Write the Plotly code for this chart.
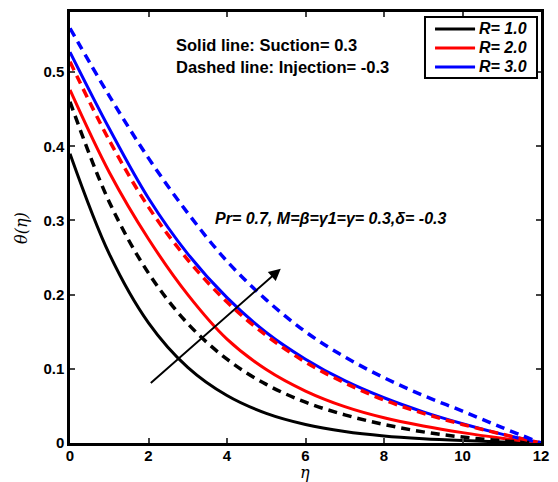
import plotly.graph_objects as go

eta = [0, 1, 2, 3, 4, 5, 6, 7, 8, 9, 10, 11, 12]

theta_R1_suction = [0.39, 0.255, 0.162, 0.102, 0.064, 0.040, 0.025, 0.0155, 0.0095, 0.0058, 0.0033, 0.0014, 0.0]
theta_R1_injection = [0.46, 0.325, 0.229, 0.161, 0.113, 0.079, 0.055, 0.038, 0.025, 0.015, 0.008, 0.003, 0.0]
theta_R2_suction = [0.476, 0.365, 0.275, 0.200, 0.140, 0.099, 0.070, 0.049, 0.034, 0.023, 0.014, 0.0065, 0.0]
theta_R2_injection = [0.514, 0.408, 0.318, 0.247, 0.190, 0.145, 0.109, 0.081, 0.058, 0.040, 0.025, 0.012, 0.0]
theta_R3_suction = [0.527, 0.424, 0.330, 0.255, 0.196, 0.149, 0.113, 0.084, 0.061, 0.042, 0.026, 0.012, 0.0]
theta_R3_injection = [0.559, 0.468, 0.384, 0.310, 0.245, 0.193, 0.150, 0.116, 0.088, 0.064, 0.043, 0.021, 0.0]

legend_labels = ["R= 1.0", "R= 2.0", "R= 3.0"]
colors = ["black", "red", "blue"]

x_ticks = [0, 2, 4, 6, 8, 10, 12]
y_ticks = [0, 0.1, 0.2, 0.3, 0.4, 0.5]
y_tick_text = ["0", "0.1", "0.2", "0.3", "0.4", "0.5"]

fig = go.Figure()

suction = [theta_R1_suction, theta_R2_suction, theta_R3_suction]
injection = [theta_R1_injection, theta_R2_injection, theta_R3_injection]

for lab, col, ys in zip(legend_labels, colors, suction):
    fig.add_trace(go.Scatter(x=eta, y=ys, mode="lines", name=lab, showlegend=False,
                             line=dict(color=col, width=3, shape="spline", smoothing=1.0)))
for lab, col, ys in zip(legend_labels, colors, injection):
    fig.add_trace(go.Scatter(x=eta, y=ys, mode="lines", name=lab, showlegend=False,
                             line=dict(color=col, width=3.5, dash="9px,6px", shape="spline", smoothing=1.0)))

ARIAL = "Arial, Liberation Sans, sans-serif"
tickfont = dict(family=ARIAL, size=15, color="black", weight="bold")

fig.update_layout(
    width=558, height=482,
    margin=dict(l=70, r=17, t=12, b=39),
    paper_bgcolor="white", plot_bgcolor="white",
    showlegend=False,
    xaxis=dict(range=[0, 12], tickvals=x_ticks, ticks="inside", ticklen=5, tickwidth=2,
               showline=True, linecolor="black", linewidth=2.5, mirror="ticks", showgrid=False, zeroline=False,
               tickfont=tickfont, automargin=False, ticklabelstandoff=-3),
    yaxis=dict(range=[0, 0.581], tickvals=y_ticks, ticktext=y_tick_text, ticks="inside", ticklen=5, tickwidth=2,
               showline=True, linecolor="black", linewidth=2.5, mirror="ticks", showgrid=False, zeroline=False,
               tickfont=tickfont, automargin=False),
)

# legend box (drawn manually to match the compact MATLAB legend)
lx0, lx1, ly0, ly1 = 0.7537, 0.9915, 0.8469, 0.9884
fig.add_shape(type="rect", xref="paper", yref="paper", x0=lx0, x1=lx1, y0=ly0, y1=ly1,
              line=dict(color="black", width=2), fillcolor="white", layer="above")
row_y = [0.9606, 0.9165, 0.8724]
for lab, col, ry in zip(legend_labels, colors, row_y):
    fig.add_shape(type="line", xref="paper", yref="paper", x0=0.775, x1=0.860, y0=ry, y1=ry,
                  line=dict(color=col, width=3), layer="above")
    fig.add_annotation(x=0.864, y=ry, xref="paper", yref="paper", xanchor="left", yanchor="middle",
                       text="<b><i>" + lab + "</i></b>", showarrow=False,
                       font=dict(family=ARIAL, size=16, color="black"))

# axis titles
fig.add_annotation(x=0.499, y=-0.0685, xref="paper", yref="paper", xanchor="center", yanchor="middle",
                   text="η", showarrow=False,
                   font=dict(family="DejaVu Serif, serif", size=16, color="black", style="italic"))
fig.add_annotation(x=-0.102, y=0.499, xref="paper", yref="paper", xanchor="center", yanchor="middle",
                   text="θ(η)", showarrow=False, textangle=-90,
                   font=dict(family="DejaVu Serif, serif", size=16, color="black", style="italic"))

fig.add_annotation(x=0.221, y=0.923, xref="paper", yref="paper", xanchor="left", yanchor="middle",
                   text="<b>Solid line: Suction= 0.3</b>", showarrow=False,
                   font=dict(family=ARIAL, size=16.5, color="black"))
fig.add_annotation(x=0.221, y=0.872, xref="paper", yref="paper", xanchor="left", yanchor="middle",
                   text="<b>Dashed line: Injection= -0.3</b>", showarrow=False,
                   font=dict(family=ARIAL, size=16.5, color="black"))
fig.add_annotation(x=0.304, y=0.522, xref="paper", yref="paper", xanchor="left", yanchor="middle",
                   text="<b><i>Pr= 0.7, M=β=γ1=γ= 0.3,δ= -0.3</i></b>", showarrow=False,
                   font=dict(family=ARIAL, size=16, color="black"))

fig.add_annotation(x=5.37, y=0.235, ax=2.02, ay=0.079, xref="x", yref="y", axref="x", ayref="y",
                   text="", showarrow=True, arrowhead=2, arrowsize=1.2, arrowwidth=2, arrowcolor="black")

fig.write_html("out.html", config={"displayModeBar": False},
               post_script="document.body.style.margin='0';")
